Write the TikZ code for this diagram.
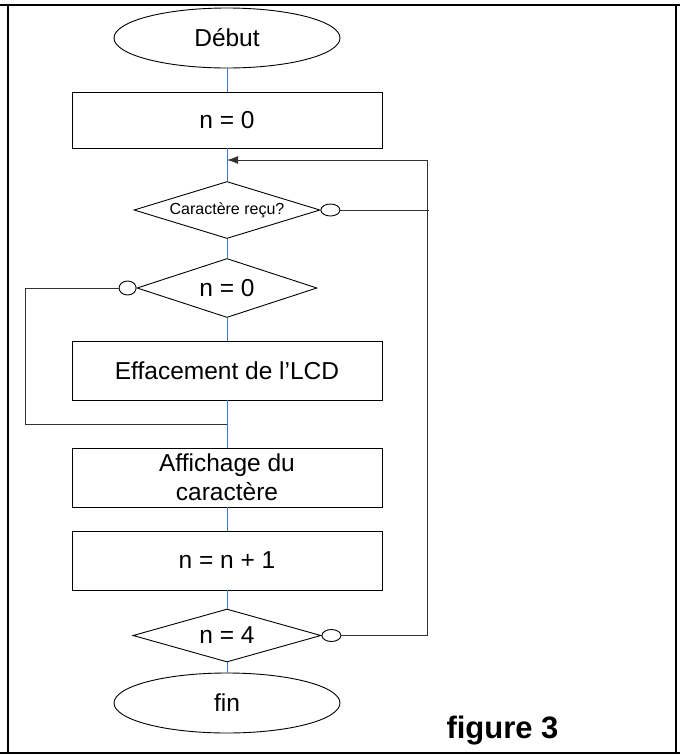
\documentclass[tikz,border=0pt]{standalone}
\usepackage{fontspec}
\setmainfont{Liberation Sans}
\usetikzlibrary{arrows.meta, positioning, shapes.geometric}
\definecolor{flowblue}{RGB}{66,120,200}
\definecolor{loopgray}{RGB}{50,50,50}

\begin{document}
\begin{tikzpicture}[x=1pt, y=-1pt, on grid, font=\fontsize{24.5}{29}\selectfont,
    term/.style={ellipse, draw, line width=0.9pt, inner sep=2pt, minimum width=226pt, minimum height=60pt},
    box/.style={rectangle, draw, line width=0.9pt, inner sep=1pt, align=center, minimum width=310pt, minimum height=59pt},
    test/.style={diamond, draw, line width=0.9pt, inner sep=0pt, aspect=3.3, minimum width=186pt, minimum height=57pt},
    port/.style={ellipse, draw, line width=0.9pt, inner sep=0pt, minimum width=19pt, minimum height=12pt},
    link/.style={draw=flowblue, line width=1pt},
    back/.style={draw=loopgray, line width=0.9pt},
    frame/.style={line width=2.4pt}]
    \useasboundingbox (0,0) rectangle (680,756);
    % cadre
    \draw[frame] (0,5) -- (680,5);
    \draw[frame] (0,753) -- (680,753);
    \draw[frame] (7.7,5) -- (7.7,753);
    \draw[frame] (676,5) -- (676,753);

    \node[term] (debut) at (227,38) {Début};
    \node[box, minimum height=56pt] (init) [below=82pt of debut] {n = 0};
    \node[test, font=\fontsize{16}{19}\selectfont] (recu) [below=90pt of init] {Caractère reçu?};
    \node[test, minimum width=180pt, minimum height=59pt] (zero) [below=78pt of recu] {n = 0};
    \node[box] (efface) [below=82.5pt of zero] {Effacement de l’LCD};
    \node[box] (affiche) [below=107pt of efface] {Affichage du\\caractère};
    \node[box] (incr) [below=83pt of affiche] {n = n + 1};
    \node[test, minimum width=188pt, minimum height=53pt] (quatre) [below=75pt of incr] {n = 4};
    \node[term] (fin) [below=67.5pt of quatre] {fin};

    \node[port, anchor=west] (nonrecu) at (recu.east) {};
    \node[port, anchor=east, minimum width=17pt, minimum height=14pt] (oui0) at (zero.west) {};
    \node[port, anchor=west] (non4) at (quatre.east) {};

    \coordinate[below=40pt of init] (join);
    \coordinate[below=53.5pt of efface] (merge);
    \coordinate (retour) at (427,160);
    \coordinate (recuend) at (429,210);
    \coordinate (gauche) at (25,288);

    % liaisons
    \draw[link] (debut) -- (init);
    \draw[link] (init) -- (recu);
    \draw[link] (recu) -- (zero);
    \draw[link] (zero) -- (efface);
    \draw[link] (efface) -- (affiche);
    \draw[link] (affiche) -- (incr);
    \draw[link] (incr) -- (quatre);
    \draw[link] (quatre) -- (fin);

    % boucles
    \draw[back, -{Latex[length=11pt, width=8pt]}] (non4) -| (retour) -- (join);
    \draw[back] (nonrecu) -- (recuend);
    \draw[back] (oui0) -- (gauche) |- (merge);

    \node[font=\bfseries\fontsize{31}{36}\selectfont, anchor=base west] (legende) at (443,738) {figure 3};
\end{tikzpicture}
\end{document}
